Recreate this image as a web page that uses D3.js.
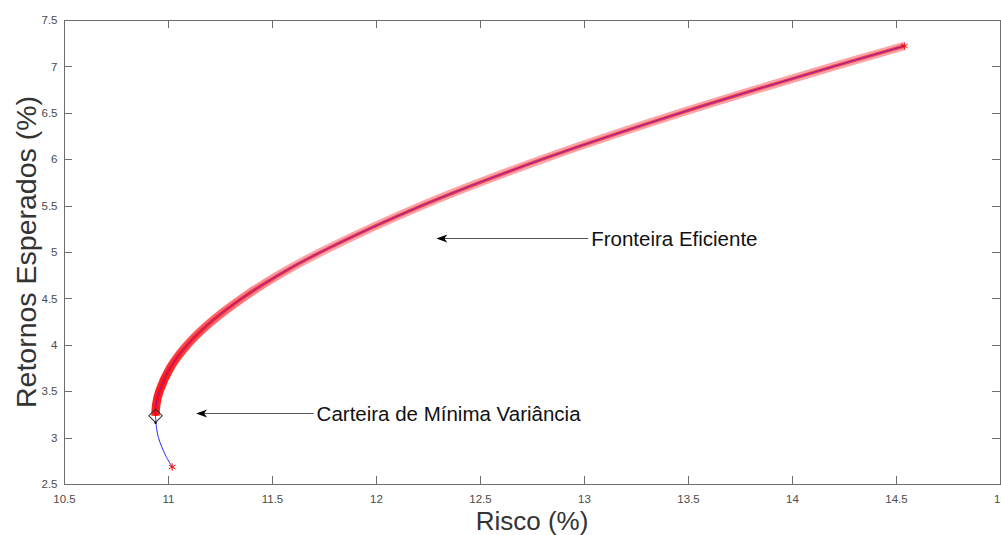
<!DOCTYPE html>
<html>
<head>
<meta charset="utf-8">
<script src="https://cdn.jsdelivr.net/npm/d3@7"></script>
<style>
  html, body { margin: 0; padding: 0; background: #fff; overflow: hidden; }
  svg { display: block; font-family: "Liberation Sans", Arial, sans-serif; }
</style>
</head>
<body>
<svg id="chart" width="1001" height="535"></svg>
<script>
// fronteira (risco %, retorno %), bottom to top
var risco    = [11.020, 10.990, 10.970, 10.954, 10.945, 10.940, 10.943, 10.959, 11.010, 11.093, 11.208, 11.355, 11.530, 11.735, 12.220, 12.800, 13.465, 14.200, 14.540];
var retornos = [2.683, 2.800, 2.900, 3.000, 3.100, 3.235, 3.350, 3.500, 3.750, 4.000, 4.250, 4.500, 4.750, 5.000, 5.500, 6.000, 6.500, 7.000, 7.220];
var minVar = [10.940, 3.235];
var extremos = [[11.020, 2.683], [14.540, 7.220]];
var xTicks = [10.5, 11, 11.5, 12, 12.5, 13, 13.5, 14, 14.5, 15];
var yTicks = [2.5, 3, 3.5, 4, 4.5, 5, 5.5, 6, 6.5, 7, 7.5];
// annotations: [text, tip x, tip y, tail x]
var notas = [
  ["Fronteira Eficiente", 12.29, 5.15, 13.02],
  ["Carteira de Mínima Variância", 11.135, 3.265, 11.7]
];

var svg = d3.select("#chart");
var pL = 64, pT = 20, pR = 1000, pB = 484;

var x = d3.scaleLinear().domain([10.5, 15]).range([pL, pR]);
var y = d3.scaleLinear().domain([2.5, 7.5]).range([pB, pT]);

var pts = risco.map(function(d, i) { return [d, retornos[i]]; });
var iMin = retornos.indexOf(minVar[1]);
var upper = pts.slice(iMin);

var line = d3.line()
  .x(function(d) { return x(d[0]); })
  .y(function(d) { return y(d[1]); })
  .curve(d3.curveCatmullRom);

// gradient: dense red near the bottom, pink higher up
var defs = svg.append("defs");
function grad(id, c1, c2) {
  var g = defs.append("linearGradient").attr("id", id)
    .attr("gradientUnits", "userSpaceOnUse")
    .attr("x1", 0).attr("x2", 0)
    .attr("y1", y(3.6)).attr("y2", y(4.9));
  g.append("stop").attr("offset", 0).attr("stop-color", c1);
  g.append("stop").attr("offset", 1).attr("stop-color", c2);
}
grad("outer", "#ff2020", "#fba4a8");
grad("inner", "#ff1010", "#f2404e");

// axes box
svg.append("rect")
  .attr("x", pL + 0.5).attr("y", pT + 0.5)
  .attr("width", pR - pL).attr("height", pB - pT)
  .attr("fill", "none").attr("stroke", "#6e6e6e").attr("stroke-width", 1);

var axisX = d3.axisBottom(x).tickValues(xTicks).tickSize(0).tickPadding(10)
  .tickFormat(d3.format("~g"));
var axisY = d3.axisLeft(y).tickValues(yTicks).tickSize(0).tickPadding(7)
  .tickFormat(d3.format("~g"));

var gx = svg.append("g").attr("transform", "translate(0," + (pB + 0.5) + ")").call(axisX);
var gy = svg.append("g").attr("transform", "translate(" + (pL + 0.5) + ",0)").call(axisY);
[gx, gy].forEach(function(g) {
  g.select(".domain").remove();
  g.selectAll("text").attr("fill", "#4a4a4a").style("font-size", "11.5px")
    .style("font-family", "Liberation Sans, Arial, sans-serif");
});

// inward ticks on all four sides
var tk = svg.append("g").attr("stroke", "#6e6e6e").attr("stroke-width", 1);
xTicks.slice(1, -1).forEach(function(t) {
  var px = Math.round(x(t)) + 0.5;
  tk.append("line").attr("x1", px).attr("x2", px).attr("y1", pB).attr("y2", pB - 8);
  tk.append("line").attr("x1", px).attr("x2", px).attr("y1", pT).attr("y2", pT + 8);
});
yTicks.slice(1, -1).forEach(function(t) {
  var py = Math.round(y(t)) + 0.5;
  tk.append("line").attr("x1", pL).attr("x2", pL + 8).attr("y1", py).attr("y2", py);
  tk.append("line").attr("x1", pR).attr("x2", pR - 8).attr("y1", py).attr("y2", py);
});

// frontier band
svg.append("path").attr("d", line(upper)).attr("fill", "none")
  .attr("stroke", "url(#outer)").attr("stroke-width", 8.5).attr("stroke-linecap", "butt");
svg.append("path").attr("d", line(upper)).attr("fill", "none")
  .attr("stroke", "url(#inner)").attr("stroke-width", 3.5).attr("stroke-linecap", "butt");
svg.append("path").attr("d", line(pts.slice(0, iMin + 1))).attr("fill", "none")
  .attr("stroke", "#2a2aff").attr("stroke-width", 1);
svg.append("path").attr("d", line(upper)).attr("fill", "none")
  .attr("stroke", "#8a1ca8").attr("stroke-width", 1);

// endpoints
var star = d3.symbol().type(d3.symbolAsterisk).size(40);
svg.selectAll(".star").data(extremos).join("path")
  .attr("class", "star")
  .attr("d", star)
  .attr("transform", function(d) { return "translate(" + x(d[0]) + "," + y(d[1]) + ")"; })
  .attr("fill", "none").attr("stroke", "#ff0000").attr("stroke-width", 1);

// minimum variance diamond
svg.append("path")
  .attr("d", d3.symbol().type(d3.symbolSquare).size(90)())
  .attr("transform", "translate(" + x(minVar[0]) + "," + y(minVar[1]) + ") rotate(45)")
  .attr("fill", "none").attr("stroke", "#333").attr("stroke-width", 1);
svg.append("circle").attr("cx", x(minVar[0])).attr("cy", y(minVar[1]) + 7).attr("r", 1.2).attr("fill", "#111");

// annotations
notas.forEach(function(n) {
  var tx = x(n[1]), ty = Math.round(y(n[2])) + 0.5, ex = x(n[3]);
  svg.append("line").attr("x1", tx + 6).attr("x2", ex).attr("y1", ty).attr("y2", ty)
    .attr("stroke", "#555").attr("stroke-width", 1);
  svg.append("path")
    .attr("d", "M" + tx + "," + ty + " L" + (tx + 11) + "," + (ty - 4) + " L" + (tx + 8) + "," + ty + " L" + (tx + 11) + "," + (ty + 4) + " Z")
    .attr("fill", "#000");
  svg.append("text").attr("x", ex + 3).attr("y", ty + 7)
    .attr("fill", "#111").style("font-size", "20.5px").text(n[0]);
});

// axis titles
svg.append("text").attr("x", (pL + pR) / 2).attr("y", 530)
  .attr("text-anchor", "middle").attr("fill", "#333").style("font-size", "26px")
  .text("Risco (%)");
svg.append("text")
  .attr("transform", "translate(36," + ((pT + pB) / 2) + ") rotate(-90)")
  .attr("text-anchor", "middle").attr("fill", "#333").style("font-size", "28.5px")
  .text("Retornos Esperados (%)");
</script>
</body>
</html>
